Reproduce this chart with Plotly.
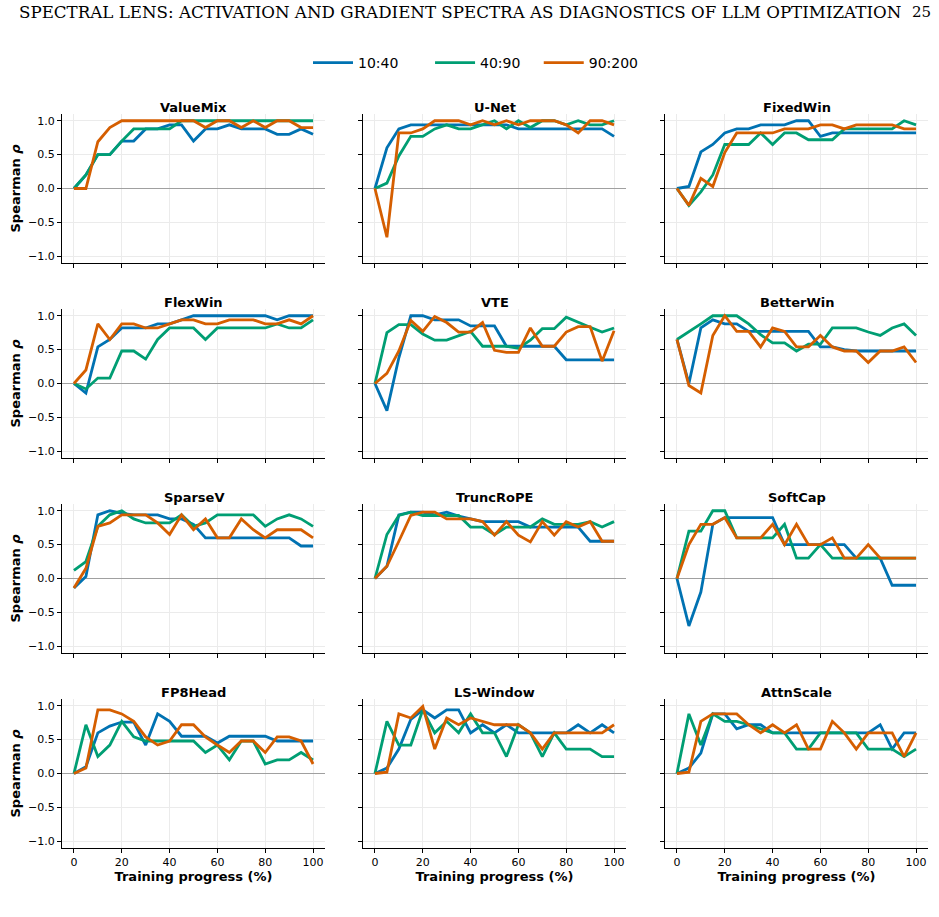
import plotly.graph_objects as go

x_pct = [0, 5, 10, 15, 20, 25, 30, 35, 40, 45, 50, 55, 60, 65, 70, 75, 80, 85, 90, 95, 100]
series_names = ["10:40", "40:90", "90:200"]
colors = ["#0072B2", "#009E73", "#D55E00"]
panel_titles = ["ValueMix", "U-Net", "FixedWin", "FlexWin", "VTE", "BetterWin",
                "SparseV", "TruncRoPE", "SoftCap", "FP8Head", "LS-Window", "AttnScale"]

valuemix_a = [0, 0.2, 0.5, 0.5, 0.7, 0.7, 0.88, 0.88, 0.94, 0.94, 0.7, 0.88, 0.88, 0.94, 0.88, 0.88, 0.88, 0.8, 0.8, 0.88, 0.8]
valuemix_b = [0, 0.2, 0.5, 0.5, 0.7, 0.88, 0.88, 0.88, 0.88, 1.0, 1.0, 1.0, 1.0, 1.0, 1.0, 1.0, 1.0, 1.0, 1.0, 1.0, 1.0]
valuemix_c = [0, 0, 0.69, 0.9, 1.0, 1.0, 1.0, 1.0, 1.0, 1.0, 1.0, 0.9, 1.0, 1.0, 0.9, 1.0, 0.9, 1.0, 1.0, 0.9, 0.9]

unet_a = [0, 0.6, 0.88, 0.94, 0.94, 0.94, 0.94, 0.94, 0.94, 0.94, 0.94, 0.94, 0.88, 0.88, 0.88, 0.88, 0.88, 0.88, 0.88, 0.88, 0.77]
unet_b = [0, 0.08, 0.48, 0.77, 0.77, 0.88, 0.94, 0.88, 0.88, 0.94, 1.0, 0.88, 1.0, 0.9, 1.0, 1.0, 0.94, 1.0, 0.94, 0.94, 1.0]
unet_c = [0, -0.72, 0.82, 0.82, 0.88, 1.0, 1.0, 1.0, 0.94, 1.0, 0.94, 1.0, 0.94, 1.0, 1.0, 1.0, 0.94, 0.82, 1.0, 1.0, 0.94]

fixedwin_a = [0, 0.03, 0.54, 0.65, 0.82, 0.88, 0.88, 0.94, 0.94, 0.94, 1.0, 1.0, 0.77, 0.82, 0.82, 0.82, 0.82, 0.82, 0.82, 0.82, 0.82]
fixedwin_b = [0, -0.25, -0.05, 0.2, 0.65, 0.65, 0.65, 0.82, 0.65, 0.82, 0.82, 0.72, 0.72, 0.72, 0.88, 0.88, 0.88, 0.88, 0.88, 1.0, 0.94]
fixedwin_c = [0, -0.25, 0.15, 0.03, 0.53, 0.82, 0.82, 0.82, 0.82, 0.88, 0.88, 0.88, 0.94, 0.94, 0.88, 0.94, 0.94, 0.94, 0.94, 0.88, 0.88]

flexwin_a = [0, -0.14, 0.54, 0.65, 0.82, 0.82, 0.82, 0.88, 0.88, 0.94, 1.0, 1.0, 1.0, 1.0, 1.0, 1.0, 1.0, 0.94, 1.0, 1.0, 1.0]
flexwin_b = [0, -0.08, 0.08, 0.08, 0.48, 0.48, 0.36, 0.65, 0.82, 0.82, 0.82, 0.65, 0.82, 0.82, 0.82, 0.82, 0.82, 0.88, 0.82, 0.82, 0.94]
flexwin_c = [0, 0.2, 0.88, 0.65, 0.88, 0.88, 0.82, 0.82, 0.88, 0.94, 0.94, 0.88, 0.88, 0.94, 0.94, 0.94, 0.88, 0.88, 0.94, 0.88, 1.0]

vte_a = [0, -0.4, 0.38, 1.0, 1.0, 0.94, 0.94, 0.94, 0.85, 0.85, 0.85, 0.55, 0.55, 0.55, 0.55, 0.55, 0.35, 0.35, 0.35, 0.35, 0.35]
vte_b = [0, 0.75, 0.87, 0.87, 0.73, 0.64, 0.64, 0.7, 0.77, 0.55, 0.55, 0.55, 0.52, 0.64, 0.81, 0.81, 0.98, 0.9, 0.83, 0.76, 0.82]
vte_c = [0, 0.15, 0.48, 0.93, 0.77, 0.99, 0.9, 0.76, 0.76, 0.9, 0.49, 0.46, 0.46, 0.82, 0.55, 0.55, 0.76, 0.84, 0.84, 0.33, 0.78]

betterwin_a = [0.65, 0.0, 0.82, 0.94, 0.88, 0.88, 0.77, 0.77, 0.77, 0.77, 0.77, 0.77, 0.54, 0.54, 0.5, 0.48, 0.48, 0.48, 0.48, 0.48, 0.48]
betterwin_b = [0.65, 0.76, 0.88, 1.0, 1.0, 1.0, 0.88, 0.72, 0.6, 0.6, 0.48, 0.58, 0.58, 0.82, 0.82, 0.82, 0.76, 0.71, 0.82, 0.88, 0.71]
betterwin_c = [0.65, -0.03, -0.14, 0.71, 1.0, 0.77, 0.77, 0.54, 0.82, 0.77, 0.54, 0.54, 0.71, 0.54, 0.48, 0.48, 0.31, 0.48, 0.48, 0.54, 0.31]

sparsev_a = [-0.14, 0.03, 0.94, 1.0, 0.96, 0.94, 0.94, 0.94, 0.88, 0.88, 0.8, 0.6, 0.6, 0.6, 0.6, 0.6, 0.6, 0.6, 0.6, 0.48, 0.48]
sparsev_b = [0.12, 0.25, 0.77, 0.94, 1.0, 0.88, 0.82, 0.82, 0.82, 0.94, 0.77, 0.82, 0.94, 0.94, 0.94, 0.94, 0.77, 0.88, 0.94, 0.88, 0.77]
sparsev_c = [-0.14, 0.15, 0.77, 0.82, 0.94, 0.94, 0.94, 0.82, 0.65, 0.94, 0.72, 0.88, 0.6, 0.6, 0.88, 0.72, 0.6, 0.72, 0.72, 0.72, 0.6]

truncrope_a = [0, 0.18, 0.94, 0.98, 0.98, 0.94, 0.98, 0.92, 0.88, 0.84, 0.84, 0.84, 0.84, 0.76, 0.76, 0.76, 0.76, 0.76, 0.55, 0.55, 0.55]
truncrope_b = [0, 0.65, 0.93, 0.98, 0.93, 0.93, 0.93, 0.93, 0.76, 0.76, 0.65, 0.76, 0.76, 0.76, 0.88, 0.8, 0.8, 0.8, 0.84, 0.76, 0.84]
truncrope_c = [0, 0.18, 0.55, 0.93, 0.98, 0.98, 0.88, 0.88, 0.88, 0.84, 0.64, 0.84, 0.64, 0.54, 0.84, 0.64, 0.84, 0.76, 0.84, 0.55, 0.55]

softcap_a = [0, -0.7, -0.2, 0.8, 0.9, 0.9, 0.9, 0.9, 0.9, 0.5, 0.5, 0.5, 0.5, 0.5, 0.5, 0.3, 0.3, 0.3, -0.1, -0.1, -0.1]
softcap_b = [0, 0.7, 0.7, 1.0, 1.0, 0.6, 0.6, 0.6, 0.6, 0.8, 0.3, 0.3, 0.5, 0.3, 0.3, 0.3, 0.3, 0.3, 0.3, 0.3, 0.3]
softcap_c = [0, 0.5, 0.8, 0.8, 0.9, 0.6, 0.6, 0.6, 0.8, 0.5, 0.8, 0.5, 0.5, 0.6, 0.3, 0.3, 0.5, 0.3, 0.3, 0.3, 0.3]

fp8head_a = [0, 0.1, 0.6, 0.7, 0.76, 0.76, 0.42, 0.88, 0.77, 0.55, 0.55, 0.55, 0.45, 0.55, 0.55, 0.55, 0.55, 0.48, 0.48, 0.48, 0.48]
fp8head_b = [0, 0.72, 0.25, 0.42, 0.77, 0.54, 0.48, 0.48, 0.48, 0.48, 0.48, 0.31, 0.42, 0.2, 0.48, 0.48, 0.14, 0.2, 0.2, 0.31, 0.2]
fp8head_c = [0, 0.08, 0.94, 0.94, 0.88, 0.77, 0.54, 0.42, 0.48, 0.72, 0.72, 0.54, 0.42, 0.31, 0.48, 0.48, 0.31, 0.54, 0.54, 0.48, 0.14]

lswindow_a = [0, 0.08, 0.36, 0.8, 0.94, 0.82, 0.94, 0.94, 0.6, 0.72, 0.6, 0.72, 0.6, 0.6, 0.6, 0.6, 0.6, 0.72, 0.6, 0.72, 0.6]
lswindow_b = [0, 0.77, 0.42, 0.42, 0.94, 0.6, 0.77, 0.6, 0.88, 0.6, 0.6, 0.25, 0.72, 0.6, 0.25, 0.6, 0.36, 0.36, 0.36, 0.25, 0.25]
lswindow_c = [0, 0.02, 0.88, 0.82, 0.99, 0.36, 0.82, 0.72, 0.82, 0.77, 0.72, 0.72, 0.72, 0.6, 0.36, 0.6, 0.6, 0.6, 0.6, 0.6, 0.72]

attnscale_a = [0, 0.08, 0.3, 0.88, 0.88, 0.66, 0.72, 0.72, 0.6, 0.6, 0.6, 0.6, 0.6, 0.6, 0.6, 0.6, 0.6, 0.72, 0.36, 0.6, 0.6]
attnscale_b = [0, 0.88, 0.42, 0.88, 0.77, 0.77, 0.72, 0.66, 0.6, 0.6, 0.36, 0.36, 0.6, 0.6, 0.6, 0.6, 0.36, 0.36, 0.36, 0.25, 0.36]
attnscale_c = [0, 0.02, 0.77, 0.88, 0.88, 0.88, 0.72, 0.6, 0.72, 0.6, 0.72, 0.36, 0.36, 0.77, 0.6, 0.36, 0.6, 0.6, 0.6, 0.25, 0.6]

panel_data = [
    [valuemix_a, valuemix_b, valuemix_c],
    [unet_a, unet_b, unet_c],
    [fixedwin_a, fixedwin_b, fixedwin_c],
    [flexwin_a, flexwin_b, flexwin_c],
    [vte_a, vte_b, vte_c],
    [betterwin_a, betterwin_b, betterwin_c],
    [sparsev_a, sparsev_b, sparsev_c],
    [truncrope_a, truncrope_b, truncrope_c],
    [softcap_a, softcap_b, softcap_c],
    [fp8head_a, fp8head_b, fp8head_c],
    [lswindow_a, lswindow_b, lswindow_c],
    [attnscale_a, attnscale_b, attnscale_c],
]

W, H = 939, 917
col_px = [(62, 325), (363, 626), (665, 928)]
row_px = [(114, 263), (309, 458), (504, 653), (699, 848)]
legend_pad = ["\u00a0" * 6, "\u00a0" * 3, ""]

FONT = "DejaVu Sans"
fig = go.Figure()
layout = dict(
    width=W, height=H,
    margin=dict(l=0, r=0, t=0, b=0),
    paper_bgcolor="white", plot_bgcolor="white",
    font=dict(family=FONT, size=11, color="black"),
    showlegend=True,
    legend=dict(orientation="h", x=308 / W, y=1 - 63 / H, xanchor="left", yanchor="middle",
                font=dict(family=FONT, size=14), itemwidth=40, tracegroupgap=0,
                bgcolor="rgba(0,0,0,0)"),
)
annotations = []

for i, title in enumerate(panel_titles):
    r, c = divmod(i, 3)
    n = i + 1
    xa = "xaxis" if n == 1 else f"xaxis{n}"
    ya = "yaxis" if n == 1 else f"yaxis{n}"
    xref = "x" if n == 1 else f"x{n}"
    yref = "y" if n == 1 else f"y{n}"
    x0, x1 = col_px[c]
    y0, y1 = row_px[r]
    layout[xa] = dict(
        domain=[x0 / W, x1 / W], anchor=yref, range=[-5, 105],
        tickvals=[0, 20, 40, 60, 80, 100], showticklabels=(r == 3),
        ticks="outside", ticklen=4, tickwidth=1, tickcolor="black",
        showline=True, linecolor="black", linewidth=1.3,
        showgrid=True, gridcolor="#ebebeb", gridwidth=0.8, zeroline=False,
        tickfont=dict(size=11),
        title=dict(text="<b>Training progress (%)</b>" if r == 3 else "", font=dict(size=13), standoff=0),
    )
    layout[ya] = dict(
        domain=[1 - y1 / H, 1 - y0 / H], anchor=xref, range=[-1.1, 1.1],
        tickvals=[-1.0, -0.5, 0.0, 0.5, 1.0], ticktext=["\u22121.0", "\u22120.5", "0.0", "0.5", "1.0"],
        showticklabels=(c == 0),
        ticks="outside", ticklen=4, tickwidth=1, tickcolor="black",
        showline=True, linecolor="black", linewidth=1.3,
        showgrid=True, gridcolor="#ebebeb", gridwidth=0.8,
        zeroline=True, zerolinecolor="#a0a0a0", zerolinewidth=1,
        tickfont=dict(size=11),
        title=dict(text="<b>Spearman <i>\u03c1</i></b>" if c == 0 else "", font=dict(size=13), standoff=4),
    )
    annotations.append(dict(text=f"<b>{title}</b>", x=(x0 + x1) / 2 / W, y=1 - (y0 - 7) / H,
                            xref="paper", yref="paper", showarrow=False, xanchor="center",
                            yanchor="middle", font=dict(size=13, family=FONT)))
    for k in range(3):
        fig.add_trace(go.Scatter(
            x=x_pct, y=panel_data[i][k], mode="lines", name=series_names[k] + legend_pad[k],
            line=dict(color=colors[k], width=2.8), xaxis=xref, yaxis=yref,
            showlegend=(i == 0), legendgroup=series_names[k],
        ))

annotations.append(dict(text="SPECTRAL LENS: ACTIVATION AND GRADIENT SPECTRA AS DIAGNOSTICS OF LLM OPTIMIZATION",
                        x=17 / W, y=1 - 12 / H, xref="paper", yref="paper", showarrow=False,
                        xanchor="left", yanchor="middle",
                        font=dict(family="DejaVu Serif", size=16.7, color="black")))
annotations.append(dict(text="25", x=933 / W, y=1 - 12 / H, xref="paper", yref="paper", showarrow=False,
                        xanchor="right", yanchor="middle",
                        font=dict(family="DejaVu Serif", size=15, color="black")))
layout["annotations"] = annotations
fig.update_layout(**layout)
fig.write_html("out.html")
